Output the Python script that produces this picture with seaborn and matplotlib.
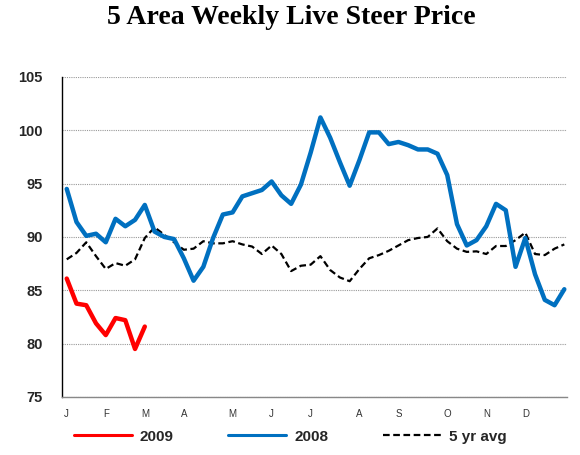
import matplotlib
matplotlib.use("Agg")
import matplotlib.pyplot as plt
import seaborn as sns
import pandas as pd
from matplotlib.lines import Line2D

# ---- data ----
weeks = list(range(52))
y2008 = [94.5, 91.4, 90.1, 90.3, 89.5, 91.7, 91.0, 91.6, 93.0, 90.5,
         90.0, 89.8, 88.0, 85.9, 87.2, 89.9, 92.1, 92.3, 93.8, 94.1,
         94.4, 95.2, 93.9, 93.1, 94.9, 97.9, 101.2, 99.3, 97.0, 94.8,
         97.2, 99.8, 99.8, 98.7, 98.9, 98.6, 98.2, 98.2, 97.8, 95.8,
         91.2, 89.2, 89.7, 91.0, 93.1, 92.5, 87.2, 89.9, 86.5, 84.1,
         83.6, 85.1]
y2009 = [86.1, 83.75, 83.6, 81.9, 80.8, 82.4, 82.2, 79.5, 81.6]
avg5 = [87.9, 88.5, 89.5, 88.2, 87.0, 87.55, 87.3, 87.9, 89.9, 90.9,
        90.2, 89.5, 88.8, 88.9, 89.6, 89.4, 89.4, 89.6, 89.3, 89.1,
        88.4, 89.2, 88.4, 86.8, 87.3, 87.4, 88.2, 86.9, 86.2, 85.85,
        87.0, 88.0, 88.3, 88.7, 89.2, 89.7, 89.9, 90.0, 90.8, 89.6,
        88.9, 88.6, 88.65, 88.4, 89.15, 89.15, 89.7, 90.4, 88.4, 88.3,
        88.9, 89.3]
month_ticks = [0, 4, 8, 12, 17, 21, 25, 30, 34, 39, 43, 47]
month_labels = ["J", "F", "M", "A", "M", "J", "J", "A", "S", "O", "N", "D"]
y_ticks = [75, 80, 85, 90, 95, 100, 105]
series_names = ["2009", "2008", "5 yr avg"]

df08 = pd.DataFrame({"week": weeks, "price": y2008})
df09 = pd.DataFrame({"week": weeks[:len(y2009)], "price": y2009})
dfav = pd.DataFrame({"week": weeks, "price": avg5})

sns.set_style("white")
plt.rcParams["font.family"] = ["Liberation Sans", "DejaVu Sans"]

fig = plt.figure(figsize=(5.8, 4.55), dpi=100)
ax = fig.add_axes([0.107, 0.1275, 0.871, 0.7035])

red = "#FF0000"
blue = "#0070C0"

sns.lineplot(data=dfav, x="week", y="price", ax=ax, color="black",
             linewidth=1.6, dashes=False, zorder=2)
ax.lines[-1].set_dashes((3, 1.6))
sns.lineplot(data=df08, x="week", y="price", ax=ax, color=blue,
             linewidth=3.2, zorder=3)
sns.lineplot(data=df09, x="week", y="price", ax=ax, color=red,
             linewidth=3.2, zorder=4)

ax.set_xlim(-0.48, 51.3)
ax.set_ylim(75, 105)
ax.set_yticks(y_ticks)
ax.set_yticklabels([str(v) for v in y_ticks], fontsize=10.5, fontweight="bold")
ax.set_xticks(month_ticks)
ax.set_xticklabels(month_labels, fontsize=7, color="#333333")
ax.tick_params(axis="x", length=0, pad=9)
ax.tick_params(axis="y", length=4, width=0.8, color="#888888", pad=10)
ax.set_xlabel("")
ax.set_ylabel("")

ax.yaxis.grid(True, linestyle=(0, (1, 1)), color="#999999", linewidth=0.8)
ax.xaxis.grid(False)
ax.set_axisbelow(True)
for s in ["top", "right"]:
    ax.spines[s].set_visible(False)
ax.spines["left"].set_color("black")
ax.spines["left"].set_linewidth(1.0)
ax.spines["bottom"].set_color("#888888")
ax.spines["bottom"].set_linewidth(1.0)

fig.text(0.503, 1 - 18 / 455, "5 Area Weekly Live Steer Price",
         ha="center", va="center", fontsize=20, fontweight="bold",
         color="black", family=["Liberation Serif", "DejaVu Serif"])

handles = [
    Line2D([], [], color=red, linewidth=2.2),
    Line2D([], [], color=blue, linewidth=2.2),
    Line2D([], [], color="black", linewidth=1.6, dashes=(3, 1.6)),
]
leg = fig.legend(handles, series_names, loc="center", bbox_to_anchor=(0.5, 0.04),
                 ncol=3, frameon=False, handlelength=3.8, handletextpad=0.5,
                 columnspacing=3.6, prop={"weight": "bold", "size": 11})

fig.savefig("out.png", dpi=100)
